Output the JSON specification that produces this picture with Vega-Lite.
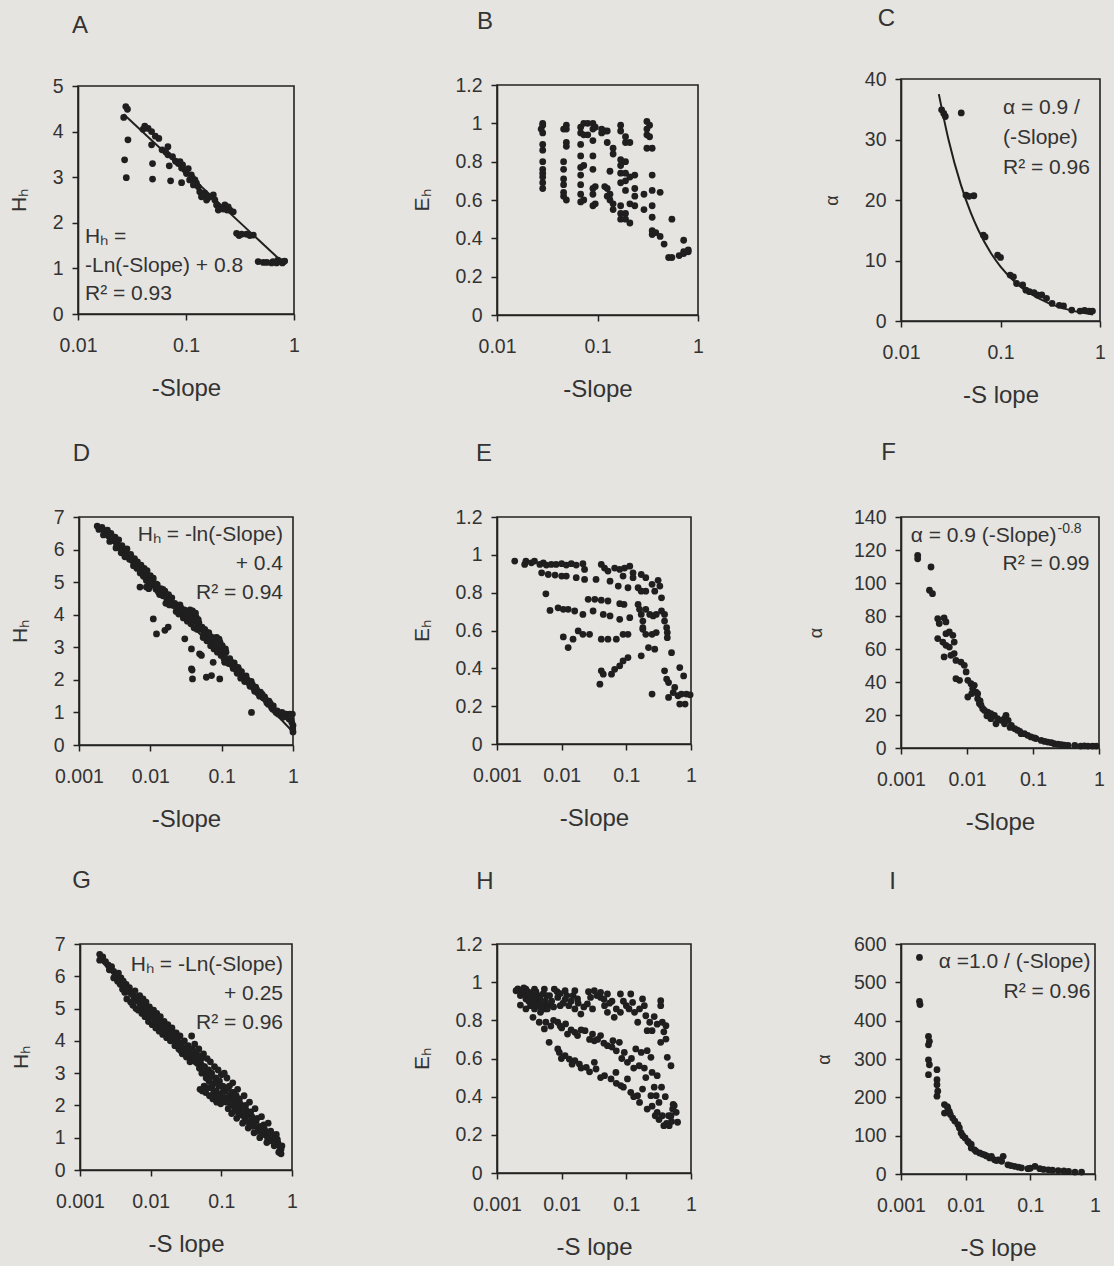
{
  "$schema": "https://vega.github.io/schema/vega-lite/v6.json",
  "background": "#e5e4e0",
  "padding": {"left": 7, "top": 5, "right": 14, "bottom": 8},
  "config": {
    "font": "Liberation Sans",
    "view": {"stroke": "#222222", "strokeWidth": 1.6},
    "axis": {"grid": false, "domainColor": "#222222", "domainWidth": 1.6, "tickColor": "#222222", "tickWidth": 1.5, "tickSize": 6,
             "labelFont": "Liberation Sans", "labelFontSize": 19.5, "labelColor": "#333333",
             "titleFont": "Liberation Sans", "titleFontWeight": "normal", "titleColor": "#333333"},
    "axisX": {"labelPadding": 16, "titleFontSize": 24, "titlePadding": 22, "labelFlush": false, "labelOverlap": false},
    "axisY": {"labelPadding": 9, "titleFontSize": 21, "titlePadding": 23, "labelOverlap": false},
    "text": {"font": "Liberation Sans", "fontSize": 21, "color": "#333333"},
    "point": {"filled": true, "size": 46, "opacity": 1, "color": "#1f1f1f"},
    "line": {"color": "#1f1f1f", "strokeWidth": 2}
  },
  "columns": 3,
  "align": "each",
  "bounds": "flush",
  "center": true,
  "spacing": {"row": 196, "column": 203},
  "datasets": {
    "A": [{"x":0.0277,"y":4.55},{"x":0.0287,"y":4.49},{"x":0.0265,"y":4.31},{"x":0.029,"y":3.82},{"x":0.027,"y":3.38},{"x":0.028,"y":2.99},{"x":0.0415,"y":4.12},{"x":0.0446,"y":4.07},{"x":0.048,"y":4.0},{"x":0.052,"y":3.9},{"x":0.048,"y":3.71},{"x":0.049,"y":3.3},{"x":0.049,"y":2.96},{"x":0.068,"y":3.67},{"x":0.068,"y":3.49},{"x":0.07,"y":3.25},{"x":0.072,"y":2.92},{"x":0.091,"y":2.88},{"x":0.088,"y":3.34},{"x":0.093,"y":3.27},{"x":0.098,"y":3.16},{"x":0.105,"y":3.19},{"x":0.112,"y":3.05},{"x":0.121,"y":2.94},{"x":0.125,"y":2.87},{"x":0.134,"y":2.68},{"x":0.139,"y":2.57},{"x":0.149,"y":2.65},{"x":0.166,"y":2.57},{"x":0.179,"y":2.61},{"x":0.185,"y":2.5},{"x":0.192,"y":2.39},{"x":0.206,"y":2.32},{"x":0.229,"y":2.39},{"x":0.246,"y":2.35},{"x":0.255,"y":2.28},{"x":0.274,"y":2.24},{"x":0.199,"y":2.28},{"x":0.294,"y":1.77},{"x":0.327,"y":1.75},{"x":0.364,"y":1.75},{"x":0.42,"y":1.73},{"x":0.466,"y":1.15},{"x":0.52,"y":1.13},{"x":0.64,"y":1.15},{"x":0.71,"y":1.18},{"x":0.76,"y":1.15},{"x":0.82,"y":1.16},{"x":0.56,"y":1.13},{"x":0.108,"y":2.94},{"x":0.117,"y":2.83},{"x":0.13,"y":2.79},{"x":0.101,"y":3.08},{"x":0.091,"y":3.2},{"x":0.155,"y":2.5},{"x":0.22,"y":2.3},{"x":0.04,"y":4.05},{"x":0.056,"y":3.85},{"x":0.06,"y":3.6},{"x":0.065,"y":3.55},{"x":0.075,"y":3.45},{"x":0.08,"y":3.35},{"x":0.085,"y":3.3},{"x":0.31,"y":1.72},{"x":0.39,"y":1.72},{"x":0.69,"y":1.12},{"x":0.78,"y":1.12},{"x":0.16,"y":2.55},{"x":0.24,"y":2.28},{"x":0.145,"y":2.6},{"x":0.115,"y":2.98},{"x":0.62,"y":1.12}],
    "Aline": [{"x":0.0265,"y":4.38},{"x":0.83,"y":1.08}],
    "B": [{"x":0.0285,"y":1.0},{"x":0.0285,"y":0.99},{"x":0.0285,"y":0.95},{"x":0.0285,"y":0.89},{"x":0.0285,"y":0.86},{"x":0.0285,"y":0.8},{"x":0.0285,"y":0.76},{"x":0.0285,"y":0.74},{"x":0.0285,"y":0.72},{"x":0.0285,"y":0.69},{"x":0.0285,"y":0.66},{"x":0.0275,"y":0.97},
      {"x":0.046,"y":0.97},{"x":0.046,"y":0.8},{"x":0.046,"y":0.76},{"x":0.046,"y":0.71},{"x":0.046,"y":0.68},{"x":0.046,"y":0.64},{"x":0.046,"y":0.62},
      {"x":0.049,"y":0.99},{"x":0.049,"y":0.97},{"x":0.049,"y":0.9},{"x":0.049,"y":0.88},{"x":0.049,"y":0.6},
      {"x":0.068,"y":0.98},{"x":0.068,"y":0.95},{"x":0.068,"y":0.89},{"x":0.068,"y":0.83},{"x":0.068,"y":0.77},{"x":0.068,"y":0.73},{"x":0.068,"y":0.68},{"x":0.068,"y":0.63},{"x":0.068,"y":0.59},
      {"x":0.073,"y":1.0},{"x":0.073,"y":0.94},{"x":0.073,"y":0.78},{"x":0.073,"y":0.6},{"x":0.08,"y":1.0},{"x":0.08,"y":0.94},
      {"x":0.09,"y":1.0},{"x":0.09,"y":0.97},{"x":0.09,"y":0.91},{"x":0.09,"y":0.83},{"x":0.09,"y":0.76},{"x":0.09,"y":0.66},{"x":0.09,"y":0.63},{"x":0.09,"y":0.57},
      {"x":0.095,"y":0.98},{"x":0.095,"y":0.67},{"x":0.095,"y":0.58},{"x":0.11,"y":0.97},{"x":0.11,"y":0.95},{"x":0.118,"y":0.96},{"x":0.118,"y":0.67},
      {"x":0.125,"y":0.96},{"x":0.125,"y":0.9},{"x":0.125,"y":0.66},{"x":0.125,"y":0.62},{"x":0.133,"y":0.75},{"x":0.133,"y":0.63},{"x":0.133,"y":0.6},
      {"x":0.143,"y":0.87},{"x":0.143,"y":0.84},{"x":0.143,"y":0.58},{"x":0.143,"y":0.55},
      {"x":0.17,"y":0.99},{"x":0.17,"y":0.96},{"x":0.17,"y":0.81},{"x":0.17,"y":0.78},{"x":0.17,"y":0.74},{"x":0.17,"y":0.69},{"x":0.17,"y":0.57},{"x":0.17,"y":0.53},{"x":0.17,"y":0.5},
      {"x":0.19,"y":0.93},{"x":0.19,"y":0.9},{"x":0.19,"y":0.8},{"x":0.19,"y":0.74},{"x":0.19,"y":0.7},{"x":0.19,"y":0.65},{"x":0.19,"y":0.53},{"x":0.19,"y":0.5},
      {"x":0.21,"y":0.9},{"x":0.21,"y":0.72},{"x":0.21,"y":0.58},{"x":0.21,"y":0.48},{"x":0.235,"y":0.73},{"x":0.235,"y":0.66},{"x":0.235,"y":0.62},{"x":0.235,"y":0.57},
      {"x":0.29,"y":0.63},{"x":0.29,"y":0.55},{"x":0.31,"y":1.01},{"x":0.31,"y":0.97},{"x":0.31,"y":0.94},{"x":0.31,"y":0.87},{"x":0.33,"y":0.99},{"x":0.33,"y":0.93},
      {"x":0.35,"y":0.87},{"x":0.35,"y":0.73},{"x":0.35,"y":0.65},{"x":0.35,"y":0.57},{"x":0.35,"y":0.51},{"x":0.35,"y":0.44},{"x":0.35,"y":0.42},{"x":0.38,"y":0.43},
      {"x":0.42,"y":0.64},{"x":0.42,"y":0.41},{"x":0.46,"y":0.37},{"x":0.51,"y":0.3},{"x":0.55,"y":0.5},{"x":0.55,"y":0.3},{"x":0.65,"y":0.31},{"x":0.72,"y":0.39},{"x":0.72,"y":0.33},{"x":0.72,"y":0.32},{"x":0.8,"y":0.33},{"x":0.8,"y":0.34}],
    "C": [{"x":0.0256,"y":34.9},{"x":0.0269,"y":34.3},{"x":0.0279,"y":33.8},{"x":0.0403,"y":34.4},{"x":0.045,"y":20.8},{"x":0.0483,"y":20.6},{"x":0.054,"y":20.7},{"x":0.0672,"y":14.2},{"x":0.07,"y":13.9},{"x":0.0935,"y":10.9},{"x":0.1,"y":10.5},{"x":0.125,"y":7.6},{"x":0.135,"y":7.3},{"x":0.145,"y":6.2},{"x":0.167,"y":5.95},{"x":0.18,"y":5.1},{"x":0.195,"y":4.85},{"x":0.217,"y":4.7},{"x":0.234,"y":4.3},{"x":0.26,"y":4.3},{"x":0.29,"y":3.75},{"x":0.33,"y":2.9},{"x":0.39,"y":2.6},{"x":0.43,"y":2.5},{"x":0.52,"y":1.8},{"x":0.63,"y":1.65},{"x":0.7,"y":1.76},{"x":0.78,"y":1.65},{"x":0.84,"y":1.65}],
    "Cline": [{"x":0.024,"y":37.5},{"x":0.03,"y":30},{"x":0.04,"y":22.5},{"x":0.05,"y":18},{"x":0.06,"y":15},{"x":0.08,"y":11.25},{"x":0.1,"y":9},{"x":0.15,"y":6},{"x":0.2,"y":4.5},{"x":0.3,"y":3},{"x":0.5,"y":1.8},{"x":0.85,"y":1.06}],
    "D": [{"x":0.0018,"y":6.72},{"x":0.0019,"y":6.62},{"x":0.0021,"y":6.68},{"x":0.0023,"y":6.55},{"x":0.0025,"y":6.6},{"x":0.0026,"y":6.42},{"x":0.0028,"y":6.5},{"x":0.003,"y":6.28},{"x":0.0032,"y":6.38},{"x":0.0034,"y":6.15},{"x":0.0036,"y":6.3},{"x":0.0038,"y":6.05},{"x":0.004,"y":6.12},{"x":0.0042,"y":5.98},{"x":0.0045,"y":5.9},{"x":0.0047,"y":6.02},{"x":0.005,"y":5.78},{"x":0.0053,"y":5.85},{"x":0.0056,"y":5.66},{"x":0.006,"y":5.72},{"x":0.0063,"y":5.55},{"x":0.0066,"y":5.62},{"x":0.007,"y":5.45},{"x":0.0074,"y":5.52},{"x":0.0078,"y":5.35},{"x":0.0082,"y":5.42},{"x":0.0087,"y":5.25},{"x":0.009,"y":5.35},{"x":0.0095,"y":5.12},{"x":0.01,"y":5.2},{"x":0.0105,"y":5.05},{"x":0.011,"y":5.12},{"x":0.0115,"y":4.95},{"x":0.012,"y":4.78},{"x":0.0125,"y":4.92},{"x":0.013,"y":4.7},{"x":0.014,"y":4.8},{"x":0.015,"y":4.58},{"x":0.016,"y":4.72},{"x":0.017,"y":4.5},{"x":0.018,"y":4.62},{"x":0.019,"y":4.42},{"x":0.02,"y":4.52},{"x":0.022,"y":4.35},{"x":0.024,"y":4.25},{"x":0.026,"y":4.3},{"x":0.028,"y":4.05},{"x":0.03,"y":4.15},{"x":0.032,"y":3.95},{"x":0.034,"y":4.05},{"x":0.036,"y":4.15},{"x":0.038,"y":3.9},{"x":0.04,"y":4.0},{"x":0.042,"y":3.8},{"x":0.044,"y":3.92},{"x":0.046,"y":3.65},{"x":0.048,"y":3.75},{"x":0.05,"y":3.55},{"x":0.053,"y":3.62},{"x":0.056,"y":3.4},{"x":0.06,"y":3.48},{"x":0.064,"y":3.3},{"x":0.068,"y":3.35},{"x":0.072,"y":3.15},{"x":0.076,"y":3.25},{"x":0.08,"y":3.02},{"x":0.085,"y":3.3},{"x":0.09,"y":3.0},{"x":0.095,"y":3.15},{"x":0.1,"y":2.9},{"x":0.105,"y":2.95},{"x":0.11,"y":2.8},{"x":0.115,"y":2.85},{"x":0.12,"y":2.6},{"x":0.13,"y":2.65},{"x":0.14,"y":2.45},{"x":0.15,"y":2.52},{"x":0.16,"y":2.3},{"x":0.17,"y":2.38},{"x":0.18,"y":2.2},{"x":0.19,"y":2.25},{"x":0.2,"y":2.08},{"x":0.22,"y":2.12},{"x":0.24,"y":1.9},{"x":0.26,"y":1.95},{"x":0.28,"y":1.75},{"x":0.3,"y":1.78},{"x":0.32,"y":1.6},{"x":0.35,"y":1.62},{"x":0.38,"y":1.45},{"x":0.4,"y":1.48},{"x":0.43,"y":1.3},{"x":0.46,"y":1.35},{"x":0.5,"y":1.15},{"x":0.53,"y":1.2},{"x":0.56,"y":1.05},{"x":0.6,"y":1.05},{"x":0.65,"y":0.95},{"x":0.7,"y":1.0},{"x":0.75,"y":0.9},{"x":0.8,"y":0.95},{"x":0.85,"y":0.85},{"x":0.9,"y":0.95},{"x":0.95,"y":0.8},{"x":0.98,"y":0.95},{"x":1.0,"y":0.6},{"x":1.0,"y":0.4},
      {"x":0.0022,"y":6.45},{"x":0.0027,"y":6.25},{"x":0.0033,"y":6.05},{"x":0.0039,"y":5.9},{"x":0.0044,"y":5.78},{"x":0.0051,"y":5.7},{"x":0.0058,"y":5.5},{"x":0.0065,"y":5.42},{"x":0.0072,"y":5.28},{"x":0.008,"y":5.18},{"x":0.0088,"y":5.05},{"x":0.0097,"y":4.98},{"x":0.0108,"y":4.9},{"x":0.012,"y":4.95},{"x":0.0135,"y":4.62},{"x":0.015,"y":4.78},{"x":0.0165,"y":4.35},{"x":0.0185,"y":4.3},{"x":0.021,"y":4.28},{"x":0.023,"y":4.1},{"x":0.025,"y":4.02},{"x":0.027,"y":4.2},{"x":0.029,"y":3.9},{"x":0.031,"y":4.05},{"x":0.033,"y":3.8},{"x":0.035,"y":3.9},{"x":0.037,"y":3.72},{"x":0.039,"y":4.12},{"x":0.041,"y":3.6},{"x":0.043,"y":4.05},{"x":0.045,"y":3.55},{"x":0.047,"y":3.85},{"x":0.055,"y":3.3},{"x":0.058,"y":3.55},{"x":0.062,"y":3.2},{"x":0.066,"y":3.45},{"x":0.07,"y":3.05},{"x":0.074,"y":3.3},{"x":0.078,"y":2.95},{"x":0.082,"y":3.15},{"x":0.087,"y":2.85},{"x":0.092,"y":3.25},{"x":0.098,"y":2.75},{"x":0.102,"y":3.05},{"x":0.108,"y":2.65},{"x":0.113,"y":2.95},{"x":0.125,"y":2.5},{"x":0.135,"y":2.55},{"x":0.145,"y":2.35},{"x":0.155,"y":2.4},{"x":0.165,"y":2.2},{"x":0.175,"y":2.3},{"x":0.185,"y":2.05},{"x":0.21,"y":1.95},{"x":0.23,"y":2.0},{"x":0.25,"y":1.8},{"x":0.27,"y":1.85},{"x":0.29,"y":1.65},{"x":0.31,"y":1.7},{"x":0.34,"y":1.5},{"x":0.37,"y":1.55},{"x":0.42,"y":1.38},{"x":0.45,"y":1.25},{"x":0.48,"y":1.28},{"x":0.52,"y":1.1},{"x":0.58,"y":1.0},{"x":0.62,"y":0.95},{"x":0.68,"y":0.9},{"x":0.72,"y":0.85},{"x":0.78,"y":0.95},{"x":0.82,"y":0.88},{"x":0.88,"y":0.8},{"x":0.93,"y":0.9},{"x":0.96,"y":0.7},{"x":0.99,"y":0.5},
      {"x":0.00715,"y":4.85},{"x":0.0088,"y":4.85},{"x":0.011,"y":3.87},{"x":0.0122,"y":3.41},{"x":0.016,"y":3.52},{"x":0.0178,"y":3.62},{"x":0.0304,"y":3.26},{"x":0.0377,"y":2.95},{"x":0.049,"y":2.8},{"x":0.0377,"y":2.34},{"x":0.039,"y":2.03},{"x":0.061,"y":2.08},{"x":0.072,"y":2.13},{"x":0.094,"y":2.03},{"x":0.076,"y":2.54},{"x":0.11,"y":2.54},{"x":0.262,"y":1.0},{"x":0.0385,"y":2.3},{"x":0.052,"y":2.75},{"x":0.0095,"y":4.8}],
    "Dline": [{"x":0.0018,"y":6.72},{"x":1.0,"y":0.4}],
    "E": [{"x":0.00188,"y":0.967},{"x":0.00268,"y":0.949},{"x":0.0028,"y":0.967},{"x":0.0034,"y":0.958},{"x":0.0038,"y":0.967},{"x":0.0046,"y":0.949},{"x":0.0052,"y":0.958},{"x":0.0058,"y":0.946},{"x":0.0069,"y":0.949},{"x":0.0082,"y":0.949},{"x":0.01,"y":0.953},{"x":0.0118,"y":0.946},{"x":0.0141,"y":0.953},{"x":0.0168,"y":0.946},{"x":0.0213,"y":0.953},{"x":0.0226,"y":0.923},{"x":0.041,"y":0.949},{"x":0.046,"y":0.93},{"x":0.052,"y":0.914},{"x":0.066,"y":0.93},{"x":0.079,"y":0.923},{"x":0.094,"y":0.93},{"x":0.113,"y":0.94},{"x":0.127,"y":0.905},{"x":0.17,"y":0.896},{"x":0.2,"y":0.879},{"x":0.25,"y":0.844},{"x":0.31,"y":0.865},{"x":0.33,"y":0.835},{"x":0.35,"y":0.773},
      {"x":0.0049,"y":0.905},{"x":0.0062,"y":0.896},{"x":0.0079,"y":0.893},{"x":0.01,"y":0.888},{"x":0.0118,"y":0.888},{"x":0.0168,"y":0.879},{"x":0.0226,"y":0.87},{"x":0.034,"y":0.87},{"x":0.056,"y":0.861},{"x":0.075,"y":0.835},{"x":0.089,"y":0.888},{"x":0.127,"y":0.879},{"x":0.106,"y":0.826},{"x":0.152,"y":0.826},{"x":0.17,"y":0.808},{"x":0.2,"y":0.808},{"x":0.275,"y":0.808},
      {"x":0.0057,"y":0.794},{"x":0.0066,"y":0.706},{"x":0.0088,"y":0.72},{"x":0.0106,"y":0.712},{"x":0.0126,"y":0.712},{"x":0.0159,"y":0.703},{"x":0.0213,"y":0.685},{"x":0.0257,"y":0.765},{"x":0.0325,"y":0.765},{"x":0.041,"y":0.76},{"x":0.052,"y":0.756},{"x":0.0306,"y":0.703},{"x":0.044,"y":0.685},{"x":0.056,"y":0.677},{"x":0.079,"y":0.742},{"x":0.092,"y":0.738},{"x":0.079,"y":0.659},{"x":0.113,"y":0.668},{"x":0.152,"y":0.738},{"x":0.16,"y":0.712},{"x":0.17,"y":0.685},{"x":0.18,"y":0.65},{"x":0.18,"y":0.615},{"x":0.2,"y":0.712},{"x":0.23,"y":0.685},{"x":0.26,"y":0.677},{"x":0.29,"y":0.685},{"x":0.35,"y":0.703},{"x":0.39,"y":0.685},{"x":0.39,"y":0.65},{"x":0.42,"y":0.615},{"x":0.43,"y":0.589},{"x":0.43,"y":0.562},
      {"x":0.0106,"y":0.566},{"x":0.0126,"y":0.51},{"x":0.015,"y":0.554},{"x":0.018,"y":0.598},{"x":0.0213,"y":0.58},{"x":0.027,"y":0.58},{"x":0.041,"y":0.554},{"x":0.052,"y":0.554},{"x":0.07,"y":0.554},{"x":0.089,"y":0.58},{"x":0.106,"y":0.58},{"x":0.18,"y":0.606},{"x":0.2,"y":0.58},{"x":0.25,"y":0.58},{"x":0.29,"y":0.589},{"x":0.22,"y":0.51},{"x":0.275,"y":0.501},{"x":0.17,"y":0.466},
      {"x":0.041,"y":0.387},{"x":0.044,"y":0.369},{"x":0.039,"y":0.316},{"x":0.059,"y":0.369},{"x":0.066,"y":0.395},{"x":0.079,"y":0.413},{"x":0.089,"y":0.439},{"x":0.106,"y":0.457},{"x":0.25,"y":0.264},{"x":0.39,"y":0.387},{"x":0.42,"y":0.343},{"x":0.45,"y":0.325},{"x":0.45,"y":0.246},{"x":0.5,"y":0.483},{"x":0.53,"y":0.272},{"x":0.56,"y":0.299},{"x":0.63,"y":0.255},{"x":0.71,"y":0.264},{"x":0.85,"y":0.264},{"x":0.97,"y":0.26},{"x":0.67,"y":0.404},{"x":0.77,"y":0.36},{"x":0.67,"y":0.211},{"x":0.81,"y":0.211}],
    "F": [{"x":0.00179,"y":116.8},{"x":0.00179,"y":114.7},{"x":0.00285,"y":109.7},{"x":0.0027,"y":95.6},{"x":0.003,"y":93.5},{"x":0.0036,"y":78.4},{"x":0.0038,"y":75.4},{"x":0.0045,"y":78.8},{"x":0.0048,"y":76.4},{"x":0.0036,"y":66.3},{"x":0.0043,"y":64.2},{"x":0.0048,"y":69.3},{"x":0.0054,"y":70.3},{"x":0.0061,"y":68.3},{"x":0.0064,"y":64.2},{"x":0.0048,"y":62.2},{"x":0.0054,"y":61.2},{"x":0.0045,"y":55.2},{"x":0.0057,"y":56.2},{"x":0.0064,"y":57.2},{"x":0.0068,"y":53.1},{"x":0.0081,"y":52.1},{"x":0.0091,"y":50.1},{"x":0.0068,"y":42.0},{"x":0.0077,"y":41.0},{"x":0.0097,"y":46.1},{"x":0.0103,"y":41.0},{"x":0.0115,"y":39.0},{"x":0.0103,"y":30.9},{"x":0.0129,"y":38.0},{"x":0.0137,"y":33.9},{"x":0.0145,"y":29.9},{"x":0.0154,"y":26.9},{"x":0.0173,"y":23.8},{"x":0.0206,"y":21.8},{"x":0.023,"y":17.8},{"x":0.029,"y":17.8},{"x":0.037,"y":17.8},{"x":0.039,"y":19.8},{"x":0.042,"y":16.8},{"x":0.047,"y":13.7},{"x":0.053,"y":11.7},{"x":0.063,"y":10.1},{"x":0.074,"y":8.7},{"x":0.093,"y":6.7},{"x":0.111,"y":5.7},{"x":0.133,"y":4.6},{"x":0.168,"y":3.6},{"x":0.21,"y":2.6},{"x":0.27,"y":2.0},{"x":0.34,"y":1.6},{"x":0.43,"y":1.6},{"x":0.53,"y":1.2},{"x":0.68,"y":1.2},{"x":0.91,"y":1.2},{"x":0.0122,"y":36.0},{"x":0.0163,"y":25.9},{"x":0.0184,"y":22.8},{"x":0.026,"y":19.8},{"x":0.033,"y":16.8},{"x":0.023,"y":20.8},{"x":0.0145,"y":32.9},{"x":0.0275,"y":14.7},{"x":0.037,"y":14.7},{"x":0.066,"y":8.7},{"x":0.083,"y":7.7},{"x":0.105,"y":6.1},{"x":0.15,"y":4.0},{"x":0.0118,"y":33.0},{"x":0.0158,"y":28.5},{"x":0.02,"y":19.5},{"x":0.045,"y":12.5},{"x":0.058,"y":10.8},{"x":0.19,"y":3.2},{"x":0.24,"y":2.3},{"x":0.3,"y":1.8},{"x":0.6,"y":1.3},{"x":0.8,"y":1.2}],
    "G": [{"x":0.0019,"y":6.68},{"x":0.0019,"y":6.5},{"x":0.0021,"y":6.6},{"x":0.0023,"y":6.45},{"x":0.0025,"y":6.35},{"x":0.0026,"y":6.2},{"x":0.0028,"y":6.3},{"x":0.003,"y":6.15},{"x":0.003,"y":5.95},{"x":0.0032,"y":6.05},{"x":0.0034,"y":5.85},{"x":0.0035,"y":6.1},{"x":0.0037,"y":5.75},{"x":0.0038,"y":5.95},{"x":0.004,"y":5.6},{"x":0.0041,"y":5.85},{"x":0.0043,"y":5.5},{"x":0.0045,"y":5.75},{"x":0.0046,"y":5.3},{"x":0.0048,"y":5.55},{"x":0.005,"y":5.65},{"x":0.0052,"y":5.2},{"x":0.0054,"y":5.45},{"x":0.0056,"y":5.1},{"x":0.0058,"y":5.35},{"x":0.006,"y":5.55},{"x":0.0062,"y":5.0},{"x":0.0064,"y":5.25},{"x":0.0067,"y":4.95},{"x":0.007,"y":5.4},{"x":0.0072,"y":5.1},{"x":0.0075,"y":4.85},{"x":0.0078,"y":5.3},{"x":0.008,"y":5.0},{"x":0.0083,"y":4.75},{"x":0.0086,"y":5.2},{"x":0.009,"y":4.9},{"x":0.0093,"y":4.6},{"x":0.0096,"y":5.05},{"x":0.01,"y":4.75},{"x":0.0105,"y":4.5},{"x":0.011,"y":4.95},{"x":0.0113,"y":4.65},{"x":0.0118,"y":4.4},{"x":0.0122,"y":4.85},{"x":0.0127,"y":4.55},{"x":0.0132,"y":4.3},{"x":0.0137,"y":4.75},{"x":0.0142,"y":4.45},{"x":0.0148,"y":4.2},{"x":0.0155,"y":4.6},{"x":0.016,"y":4.35},{"x":0.0168,"y":4.1},{"x":0.0175,"y":4.5},{"x":0.0182,"y":4.2},{"x":0.019,"y":4.0},{"x":0.02,"y":4.4},{"x":0.021,"y":4.1},{"x":0.022,"y":3.85},{"x":0.023,"y":4.25},{"x":0.024,"y":3.95},{"x":0.025,"y":3.75},{"x":0.026,"y":4.15},{"x":0.027,"y":3.85},{"x":0.028,"y":3.6},{"x":0.03,"y":4.0},{"x":0.031,"y":3.7},{"x":0.032,"y":3.5},{"x":0.034,"y":3.85},{"x":0.035,"y":3.55},{"x":0.036,"y":3.35},{"x":0.038,"y":4.15},{"x":0.039,"y":3.75},{"x":0.04,"y":3.45},{"x":0.042,"y":3.9},{"x":0.044,"y":3.6},{"x":0.046,"y":3.3},{"x":0.048,"y":3.75},{"x":0.05,"y":2.5},{"x":0.052,"y":3.45},{"x":0.054,"y":2.45},{"x":0.056,"y":3.6},{"x":0.058,"y":3.2},{"x":0.06,"y":2.4},{"x":0.063,"y":3.45},{"x":0.066,"y":3.1},{"x":0.068,"y":2.3},{"x":0.07,"y":3.35},{"x":0.073,"y":3.0},{"x":0.076,"y":2.2},{"x":0.08,"y":3.2},{"x":0.083,"y":2.85},{"x":0.086,"y":2.1},{"x":0.09,"y":3.1},{"x":0.094,"y":2.75},{"x":0.098,"y":2.05},{"x":0.1,"y":2.95},{"x":0.105,"y":2.6},{"x":0.11,"y":3.0},{"x":0.115,"y":2.45},{"x":0.12,"y":2.85},{"x":0.125,"y":1.9},{"x":0.13,"y":2.6},{"x":0.135,"y":2.3},{"x":0.14,"y":1.75},{"x":0.145,"y":2.7},{"x":0.15,"y":2.4},{"x":0.16,"y":2.1},{"x":0.165,"y":1.6},{"x":0.17,"y":2.5},{"x":0.18,"y":2.2},{"x":0.19,"y":1.9},{"x":0.2,"y":1.45},{"x":0.21,"y":2.3},{"x":0.22,"y":2.0},{"x":0.23,"y":1.7},{"x":0.24,"y":1.3},{"x":0.25,"y":2.1},{"x":0.26,"y":1.8},{"x":0.28,"y":1.5},{"x":0.29,"y":1.15},{"x":0.3,"y":1.9},{"x":0.32,"y":1.6},{"x":0.34,"y":1.3},{"x":0.35,"y":1.0},{"x":0.37,"y":1.65},{"x":0.4,"y":1.4},{"x":0.42,"y":1.1},{"x":0.44,"y":0.85},{"x":0.46,"y":1.45},{"x":0.5,"y":1.2},{"x":0.53,"y":0.95},{"x":0.56,"y":0.75},{"x":0.6,"y":1.1},{"x":0.63,"y":0.85},{"x":0.68,"y":0.6},{"x":0.7,"y":0.5},{"x":0.72,"y":0.75},
      {"x":0.0033,"y":6.0},{"x":0.0036,"y":5.9},{"x":0.0039,"y":5.8},{"x":0.0042,"y":5.7},{"x":0.0047,"y":5.6},{"x":0.0051,"y":5.5},{"x":0.0055,"y":5.45},{"x":0.0059,"y":5.3},{"x":0.0063,"y":5.35},{"x":0.0068,"y":5.2},{"x":0.0073,"y":5.25},{"x":0.0077,"y":5.1},{"x":0.0082,"y":5.1},{"x":0.0088,"y":4.98},{"x":0.0095,"y":4.85},{"x":0.0102,"y":4.95},{"x":0.0108,"y":4.75},{"x":0.0115,"y":4.8},{"x":0.012,"y":4.6},{"x":0.013,"y":4.62},{"x":0.014,"y":4.55},{"x":0.0145,"y":4.4},{"x":0.0152,"y":4.45},{"x":0.0165,"y":4.3},{"x":0.0172,"y":4.35},{"x":0.0185,"y":4.2},{"x":0.0195,"y":4.25},{"x":0.0205,"y":4.05},{"x":0.0215,"y":4.25},{"x":0.0225,"y":4.0},{"x":0.0235,"y":4.1},{"x":0.0245,"y":3.85},{"x":0.0255,"y":3.95},{"x":0.0265,"y":3.7},{"x":0.029,"y":3.8},{"x":0.033,"y":3.65},{"x":0.037,"y":3.55},{"x":0.041,"y":3.65},{"x":0.043,"y":3.35},{"x":0.045,"y":3.5},{"x":0.047,"y":3.55},{"x":0.049,"y":3.15},{"x":0.051,"y":3.3},{"x":0.053,"y":3.0},{"x":0.055,"y":3.2},{"x":0.057,"y":2.6},{"x":0.059,"y":3.0},{"x":0.061,"y":2.85},{"x":0.062,"y":2.55},{"x":0.064,"y":3.0},{"x":0.067,"y":2.75},{"x":0.069,"y":2.55},{"x":0.071,"y":2.9},{"x":0.074,"y":2.6},{"x":0.078,"y":2.4},{"x":0.081,"y":2.7},{"x":0.085,"y":2.45},{"x":0.088,"y":2.3},{"x":0.092,"y":2.6},{"x":0.096,"y":2.35},{"x":0.1,"y":2.2},{"x":0.107,"y":2.45},{"x":0.112,"y":2.25},{"x":0.118,"y":2.1},{"x":0.123,"y":2.55},{"x":0.128,"y":2.2},{"x":0.138,"y":2.0},{"x":0.142,"y":2.4},{"x":0.148,"y":2.15},{"x":0.155,"y":1.85},{"x":0.162,"y":2.3},{"x":0.168,"y":1.95},{"x":0.175,"y":1.75},{"x":0.185,"y":2.05},{"x":0.195,"y":1.7},{"x":0.205,"y":1.95},{"x":0.215,"y":1.6},{"x":0.225,"y":1.85},{"x":0.235,"y":1.5},{"x":0.245,"y":1.7},{"x":0.255,"y":1.4},{"x":0.27,"y":1.65},{"x":0.285,"y":1.35},{"x":0.31,"y":1.5},{"x":0.33,"y":1.2},{"x":0.36,"y":1.35},{"x":0.38,"y":1.1},{"x":0.41,"y":1.25},{"x":0.45,"y":1.0},{"x":0.48,"y":1.15},{"x":0.52,"y":0.9},{"x":0.55,"y":1.05},{"x":0.58,"y":0.85},{"x":0.62,"y":0.95},{"x":0.66,"y":0.75},{"x":0.7,"y":0.65},{"x":0.65,"y":0.55}],
    "Gline": [{"x":0.0019,"y":6.52},{"x":0.7,"y":0.61}],
    "H": [{"x":0.00197,"y":0.955},{"x":0.0028,"y":0.964},{"x":0.0038,"y":0.964},{"x":0.0054,"y":0.964},{"x":0.0077,"y":0.964},{"x":0.0113,"y":0.955},{"x":0.016,"y":0.955},{"x":0.032,"y":0.955},{"x":0.04,"y":0.947},{"x":0.051,"y":0.938},{"x":0.081,"y":0.938},{"x":0.117,"y":0.938},{"x":0.178,"y":0.912},{"x":0.34,"y":0.903},{"x":0.34,"y":0.877},
      {"x":0.0023,"y":0.93},{"x":0.0028,"y":0.912},{"x":0.0033,"y":0.877},{"x":0.0038,"y":0.86},{"x":0.0044,"y":0.894},{"x":0.005,"y":0.877},{"x":0.0047,"y":0.842},{"x":0.0058,"y":0.93},{"x":0.0062,"y":0.877},{"x":0.0055,"y":0.86},{"x":0.0028,"y":0.86},{"x":0.0033,"y":0.93},{"x":0.0038,"y":0.92},{"x":0.0044,"y":0.93},{"x":0.0023,"y":0.88},
      {"x":0.0087,"y":0.92},{"x":0.0095,"y":0.877},{"x":0.0129,"y":0.877},{"x":0.0113,"y":0.91},{"x":0.016,"y":0.86},{"x":0.0176,"y":0.912},{"x":0.0198,"y":0.833},{"x":0.025,"y":0.886},{"x":0.04,"y":0.92},{"x":0.046,"y":0.877},{"x":0.051,"y":0.842},{"x":0.065,"y":0.816},{"x":0.081,"y":0.842},{"x":0.1,"y":0.877},{"x":0.125,"y":0.894},{"x":0.134,"y":0.842},{"x":0.15,"y":0.79},{"x":0.19,"y":0.877},{"x":0.2,"y":0.824},{"x":0.23,"y":0.79},{"x":0.21,"y":0.746},{"x":0.25,"y":0.746},{"x":0.36,"y":0.79},{"x":0.41,"y":0.772},{"x":0.41,"y":0.702},{"x":0.34,"y":0.685},{"x":0.03,"y":0.86},{"x":0.06,"y":0.9},
      {"x":0.0036,"y":0.816},{"x":0.0045,"y":0.79},{"x":0.0057,"y":0.79},{"x":0.0054,"y":0.755},{"x":0.0087,"y":0.79},{"x":0.0115,"y":0.781},{"x":0.0123,"y":0.728},{"x":0.016,"y":0.737},{"x":0.0176,"y":0.72},{"x":0.023,"y":0.746},{"x":0.03,"y":0.728},{"x":0.032,"y":0.693},{"x":0.04,"y":0.72},{"x":0.051,"y":0.667},{"x":0.062,"y":0.693},{"x":0.078,"y":0.685},{"x":0.093,"y":0.632},{"x":0.104,"y":0.58},{"x":0.14,"y":0.65},{"x":0.158,"y":0.562},{"x":0.17,"y":0.632},{"x":0.21,"y":0.641},{"x":0.24,"y":0.606},{"x":0.25,"y":0.527},{"x":0.3,"y":0.51},{"x":0.43,"y":0.606},{"x":0.49,"y":0.562},{"x":0.0068,"y":0.77},{"x":0.01,"y":0.76},
      {"x":0.0064,"y":0.685},{"x":0.0087,"y":0.65},{"x":0.0092,"y":0.632},{"x":0.0113,"y":0.615},{"x":0.0131,"y":0.597},{"x":0.016,"y":0.589},{"x":0.0188,"y":0.571},{"x":0.024,"y":0.554},{"x":0.032,"y":0.58},{"x":0.034,"y":0.545},{"x":0.046,"y":0.51},{"x":0.058,"y":0.493},{"x":0.069,"y":0.527},{"x":0.082,"y":0.458},{"x":0.104,"y":0.493},{"x":0.117,"y":0.423},{"x":0.149,"y":0.405},{"x":0.178,"y":0.44},{"x":0.21,"y":0.335},{"x":0.24,"y":0.405},{"x":0.29,"y":0.405},{"x":0.32,"y":0.37},{"x":0.3,"y":0.318},{"x":0.36,"y":0.3},{"x":0.38,"y":0.248},{"x":0.46,"y":0.248},{"x":0.49,"y":0.3},{"x":0.52,"y":0.335},{"x":0.59,"y":0.318},{"x":0.62,"y":0.266},{"x":0.55,"y":0.353},{"x":0.0099,"y":0.6},{"x":0.0145,"y":0.57},{"x":0.02,"y":0.55},{"x":0.027,"y":0.53},{"x":0.04,"y":0.5},{"x":0.42,"y":0.26},{"x":0.5,"y":0.27},{"x":0.53,"y":0.36},
      {"x":0.0021,"y":0.965},{"x":0.0024,"y":0.95},{"x":0.0026,"y":0.97},{"x":0.0027,"y":0.94},{"x":0.003,"y":0.95},{"x":0.0031,"y":0.9},{"x":0.0035,"y":0.945},{"x":0.0036,"y":0.895},{"x":0.004,"y":0.95},{"x":0.0042,"y":0.875},{"x":0.0046,"y":0.915},{"x":0.0049,"y":0.86},{"x":0.0052,"y":0.94},{"x":0.0056,"y":0.9},{"x":0.006,"y":0.86},{"x":0.0065,"y":0.93},{"x":0.007,"y":0.9},{"x":0.0075,"y":0.87},{"x":0.0085,"y":0.95},{"x":0.0095,"y":0.94},{"x":0.0105,"y":0.89},{"x":0.012,"y":0.93},{"x":0.014,"y":0.9},{"x":0.015,"y":0.93},{"x":0.018,"y":0.89},{"x":0.022,"y":0.87},{"x":0.026,"y":0.95},{"x":0.028,"y":0.92},{"x":0.035,"y":0.93},{"x":0.045,"y":0.91},{"x":0.055,"y":0.89},{"x":0.07,"y":0.86},{"x":0.09,"y":0.9},{"x":0.11,"y":0.86},{"x":0.16,"y":0.86},{"x":0.27,"y":0.82},{"x":0.3,"y":0.78},{"x":0.38,"y":0.74},{"x":0.0075,"y":0.8},{"x":0.0095,"y":0.77},{"x":0.014,"y":0.75},{"x":0.02,"y":0.75},{"x":0.027,"y":0.7},{"x":0.036,"y":0.7},{"x":0.045,"y":0.68},{"x":0.06,"y":0.66},{"x":0.07,"y":0.64},{"x":0.085,"y":0.6},{"x":0.12,"y":0.6},{"x":0.13,"y":0.55},{"x":0.19,"y":0.55},{"x":0.2,"y":0.5},{"x":0.27,"y":0.45},{"x":0.35,"y":0.45},{"x":0.4,"y":0.4},{"x":0.07,"y":0.47},{"x":0.09,"y":0.45},{"x":0.13,"y":0.4},{"x":0.16,"y":0.37},{"x":0.25,"y":0.35},{"x":0.28,"y":0.3},{"x":0.32,"y":0.28},{"x":0.45,"y":0.3}],
    "I": [{"x":0.00193,"y":565},{"x":0.00193,"y":450},{"x":0.00197,"y":442},{"x":0.00266,"y":359},{"x":0.00275,"y":346},{"x":0.00266,"y":337},{"x":0.00266,"y":298},{"x":0.00275,"y":285},{"x":0.00266,"y":259},{"x":0.0036,"y":272},{"x":0.0036,"y":246},{"x":0.0036,"y":233},{"x":0.0037,"y":216},{"x":0.0036,"y":203},{"x":0.0047,"y":181},{"x":0.0053,"y":172},{"x":0.0047,"y":159},{"x":0.0056,"y":163},{"x":0.0063,"y":146},{"x":0.0076,"y":129},{"x":0.008,"y":120},{"x":0.0085,"y":107},{"x":0.0098,"y":94},{"x":0.0108,"y":85},{"x":0.0122,"y":77},{"x":0.0137,"y":63},{"x":0.0164,"y":55},{"x":0.0196,"y":50},{"x":0.0235,"y":42},{"x":0.028,"y":37},{"x":0.038,"y":46},{"x":0.036,"y":33},{"x":0.045,"y":24},{"x":0.057,"y":20},{"x":0.073,"y":16},{"x":0.092,"y":14},{"x":0.118,"y":20},{"x":0.14,"y":14},{"x":0.19,"y":11},{"x":0.27,"y":9},{"x":0.39,"y":7},{"x":0.49,"y":5},{"x":0.62,"y":5},{"x":0.0122,"y":68},{"x":0.0145,"y":59},{"x":0.025,"y":46},{"x":0.032,"y":37},{"x":0.0052,"y":176},{"x":0.0058,"y":155},{"x":0.0068,"y":138},{"x":0.009,"y":100},{"x":0.0115,"y":80},{"x":0.018,"y":52},{"x":0.021,"y":47},{"x":0.03,"y":35},{"x":0.05,"y":22},{"x":0.065,"y":18},{"x":0.1,"y":15},{"x":0.16,"y":12},{"x":0.22,"y":10},{"x":0.33,"y":8}]
  },
  "concat": [
    {
      "width": 216, "height": 228,
      "encoding": {
        "x": {"field": "x", "type": "quantitative", "scale": {"type": "log", "domain": [0.01, 1], "nice": false}, "axis": {"values": [0.01, 0.1, 1], "format": "~g", "title": "-Slope"}},
        "y": {"field": "y", "type": "quantitative", "scale": {"domain": [0, 5], "nice": false, "zero": false}, "axis": {"values": [0, 1, 2, 3, 4, 5], "title": "Hₕ", "titlePadding": 23}}
      },
      "layer": [
        {"data": {"name": "A"}, "mark": {"type": "point"}},
        {"data": {"name": "Aline"}, "mark": {"type": "line"}},
        {"data": {"values": [{"x": 0.0116, "y": 1.55}]}, "mark": {"type": "text", "align": "left", "baseline": "alphabetic", "lineHeight": 28.5, "text": ["Hₕ =", "-Ln(-Slope) + 0.8", "R² = 0.93"]}},
        {"data": {"values": [{"x": 0.01043, "y": 6.16}]}, "mark": {"type": "text", "align": "center", "baseline": "alphabetic", "fontSize": 24, "text": "A"}}
      ]
    },
    {
      "width": 201, "height": 230,
      "encoding": {
        "x": {"field": "x", "type": "quantitative", "scale": {"type": "log", "domain": [0.01, 1], "nice": false}, "axis": {"values": [0.01, 0.1, 1], "format": "~g", "title": "-Slope"}},
        "y": {"field": "y", "type": "quantitative", "scale": {"domain": [0, 1.2], "nice": false, "zero": false}, "axis": {"values": [0, 0.2, 0.4, 0.6, 0.8, 1, 1.2], "format": "~g", "title": "Eₕ", "titlePadding": 22}}
      },
      "layer": [
        {"data": {"name": "B"}, "mark": {"type": "point"}},
        {"data": {"values": [{"x": 0.0076, "y": 1.492}]}, "mark": {"type": "text", "align": "center", "baseline": "alphabetic", "fontSize": 24, "text": "B"}}
      ]
    },
    {
      "width": 199, "height": 242,
      "encoding": {
        "x": {"field": "x", "type": "quantitative", "scale": {"type": "log", "domain": [0.01, 1], "nice": false}, "axis": {"values": [0.01, 0.1, 1], "format": "~g", "title": "-S lope"}},
        "y": {"field": "y", "type": "quantitative", "scale": {"domain": [0, 40], "nice": false, "zero": false}, "axis": {"values": [0, 10, 20, 30, 40], "title": "α", "titleFontSize": 18, "titlePadding": 23}}
      },
      "layer": [
        {"data": {"name": "C"}, "mark": {"type": "point"}},
        {"data": {"name": "Cline"}, "mark": {"type": "line", "interpolate": "monotone"}},
        {"data": {"values": [{"x": 0.106, "y": 34.2}]}, "mark": {"type": "text", "align": "left", "baseline": "alphabetic", "lineHeight": 30, "text": ["α = 0.9 /", "(-Slope)", "R² = 0.96"]}},
        {"data": {"values": [{"x": 0.00715, "y": 48.8}]}, "mark": {"type": "text", "align": "center", "baseline": "alphabetic", "fontSize": 24, "text": "C"}}
      ]
    },
    {
      "width": 214, "height": 228,
      "encoding": {
        "x": {"field": "x", "type": "quantitative", "scale": {"type": "log", "domain": [0.001, 1], "nice": false}, "axis": {"values": [0.001, 0.01, 0.1, 1], "format": "~g", "title": "-Slope"}},
        "y": {"field": "y", "type": "quantitative", "scale": {"domain": [0, 7], "nice": false, "zero": false}, "axis": {"values": [0, 1, 2, 3, 4, 5, 6, 7], "title": "Hₕ", "titlePadding": 23}}
      },
      "layer": [
        {"data": {"name": "D"}, "mark": {"type": "point"}},
        {"data": {"name": "Dline"}, "mark": {"type": "line"}},
        {"data": {"values": [{"x": 0.724, "y": 6.25}]}, "mark": {"type": "text", "align": "right", "baseline": "alphabetic", "lineHeight": 29, "text": ["Hₕ = -ln(-Slope)", "+ 0.4", "R² = 0.94"]}},
        {"data": {"values": [{"x": 0.00108, "y": 8.72}]}, "mark": {"type": "text", "align": "center", "baseline": "alphabetic", "fontSize": 24, "text": "D"}}
      ]
    },
    {
      "width": 194, "height": 227,
      "encoding": {
        "x": {"field": "x", "type": "quantitative", "scale": {"type": "log", "domain": [0.001, 1], "nice": false}, "axis": {"values": [0.001, 0.01, 0.1, 1], "format": "~g", "title": "-Slope"}},
        "y": {"field": "y", "type": "quantitative", "scale": {"domain": [0, 1.2], "nice": false, "zero": false}, "axis": {"values": [0, 0.2, 0.4, 0.6, 0.8, 1, 1.2], "format": "~g", "title": "Eₕ", "titlePadding": 22}}
      },
      "layer": [
        {"data": {"name": "E"}, "mark": {"type": "point"}},
        {"data": {"values": [{"x": 0.00063, "y": 1.496}]}, "mark": {"type": "text", "align": "center", "baseline": "alphabetic", "fontSize": 24, "text": "E"}}
      ]
    },
    {
      "width": 198, "height": 231,
      "encoding": {
        "x": {"field": "x", "type": "quantitative", "scale": {"type": "log", "domain": [0.001, 1], "nice": false}, "axis": {"values": [0.001, 0.01, 0.1, 1], "format": "~g", "title": "-Slope"}},
        "y": {"field": "y", "type": "quantitative", "scale": {"domain": [0, 140], "nice": false, "zero": false}, "axis": {"values": [0, 20, 40, 60, 80, 100, 120, 140], "title": "α", "titleFontSize": 18, "titlePadding": 28}}
      },
      "layer": [
        {"data": {"name": "F"}, "mark": {"type": "point"}},
        {"data": {"values": [{"x": 0.227, "y": 125}]}, "mark": {"type": "text", "align": "right", "baseline": "alphabetic", "text": "α = 0.9 (-Slope)"}},
        {"data": {"values": [{"x": 0.227, "y": 130.3}]}, "mark": {"type": "text", "align": "left", "baseline": "alphabetic", "fontSize": 14, "dx": 1, "text": "-0.8"}},
        {"data": {"values": [{"x": 0.718, "y": 107.9}]}, "mark": {"type": "text", "align": "right", "baseline": "alphabetic", "text": "R² = 0.99"}},
        {"data": {"values": [{"x": 0.000647, "y": 174.5}]}, "mark": {"type": "text", "align": "center", "baseline": "alphabetic", "fontSize": 24, "text": "F"}}
      ]
    },
    {
      "width": 212, "height": 226,
      "encoding": {
        "x": {"field": "x", "type": "quantitative", "scale": {"type": "log", "domain": [0.001, 1], "nice": false}, "axis": {"values": [0.001, 0.01, 0.1, 1], "format": "~g", "title": "-S lope"}},
        "y": {"field": "y", "type": "quantitative", "scale": {"domain": [0, 7], "nice": false, "zero": false}, "axis": {"values": [0, 1, 2, 3, 4, 5, 6, 7], "title": "Hₕ", "titlePadding": 23}}
      },
      "layer": [
        {"data": {"name": "G"}, "mark": {"type": "point"}},
        {"data": {"name": "Gline"}, "mark": {"type": "line"}},
        {"data": {"values": [{"x": 0.746, "y": 6.16}]}, "mark": {"type": "text", "align": "right", "baseline": "alphabetic", "lineHeight": 29, "text": ["Hₕ = -Ln(-Slope)", "+ 0.25", "R² = 0.96"]}},
        {"data": {"values": [{"x": 0.00105, "y": 8.73}]}, "mark": {"type": "text", "align": "center", "baseline": "alphabetic", "fontSize": 24, "text": "G"}}
      ]
    },
    {
      "width": 194, "height": 229,
      "encoding": {
        "x": {"field": "x", "type": "quantitative", "scale": {"type": "log", "domain": [0.001, 1], "nice": false}, "axis": {"values": [0.001, 0.01, 0.1, 1], "format": "~g", "title": "-S lope"}},
        "y": {"field": "y", "type": "quantitative", "scale": {"domain": [0, 1.2], "nice": false, "zero": false}, "axis": {"values": [0, 0.2, 0.4, 0.6, 0.8, 1, 1.2], "format": "~g", "title": "Eₕ", "titlePadding": 22}}
      },
      "layer": [
        {"data": {"name": "H"}, "mark": {"type": "point"}},
        {"data": {"values": [{"x": 0.000652, "y": 1.488}]}, "mark": {"type": "text", "align": "center", "baseline": "alphabetic", "fontSize": 24, "text": "H"}}
      ]
    },
    {
      "width": 194, "height": 230,
      "encoding": {
        "x": {"field": "x", "type": "quantitative", "scale": {"type": "log", "domain": [0.001, 1], "nice": false}, "axis": {"values": [0.001, 0.01, 0.1, 1], "format": "~g", "title": "-S lope"}},
        "y": {"field": "y", "type": "quantitative", "scale": {"domain": [0, 600], "nice": false, "zero": false}, "axis": {"values": [0, 100, 200, 300, 400, 500, 600], "title": "α", "titleFontSize": 18, "titlePadding": 20}}
      },
      "layer": [
        {"data": {"name": "I"}, "mark": {"type": "point"}},
        {"data": {"values": [{"x": 0.851, "y": 537}]}, "mark": {"type": "text", "align": "right", "baseline": "alphabetic", "lineHeight": 30, "text": ["α =1.0 / (-Slope)", "R² = 0.96"]}},
        {"data": {"values": [{"x": 0.00074, "y": 743.5}]}, "mark": {"type": "text", "align": "center", "baseline": "alphabetic", "fontSize": 24, "text": "I"}}
      ]
    }
  ]
}
